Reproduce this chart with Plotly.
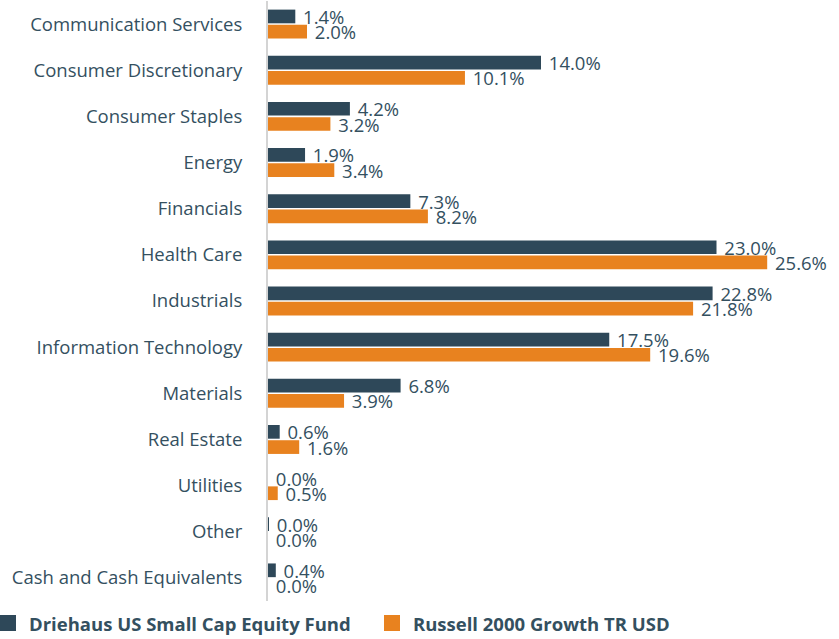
import plotly.graph_objects as go

sectors = [
    "Communication Services", "Consumer Discretionary", "Consumer Staples", "Energy",
    "Financials", "Health Care", "Industrials", "Information Technology",
    "Materials", "Real Estate", "Utilities", "Other", "Cash and Cash Equivalents",
]
fund = [1.4, 14.0, 4.2, 1.9, 7.3, 23.0, 22.8, 17.5, 6.8, 0.6, 0.0, 0.04, 0.4]
bench = [2.0, 10.1, 3.2, 3.4, 8.2, 25.6, 21.8, 19.6, 3.9, 1.6, 0.5, 0.0, 0.0]

fund_name = "Driehaus US Small Cap Equity Fund"
bench_name = "Russell 2000 Growth TR USD"

DARK = "#2e4859"
ORANGE = "#e8821f"
TEXT = "#34505f"

W, H = 839, 639
ML, MR, MT, MB = 268, 25, 1, 38
PW, PH = W - ML - MR, H - MT - MB


def px_x(px):
    return (px - ML) / PW


def px_y(py):
    return (H - MB - py) / PH


def pct(vals):
    return [f" {v:.1f}%" for v in vals]


fig = go.Figure()
series = [(fund_name, fund, DARK), (bench_name, bench, ORANGE)]
for name, vals, color in series:
    fig.add_trace(go.Bar(
        y=sectors, x=vals, name=name, orientation="h",
        marker=dict(color=color, line=dict(width=0)),
        text=pct(vals), textposition="outside", constraintext="none",
        cliponaxis=False, showlegend=False,
        textfont=dict(family="Open Sans", size=18.5, color=TEXT),
    ))

# legend drawn as square swatches with bold labels along the bottom
legend_items = [(fund_name, DARK, 0, 27), (bench_name, ORANGE, 384, 411)]
for name, color, sx, tx in legend_items:
    fig.add_shape(
        type="rect", xref="paper", yref="paper",
        x0=px_x(sx), x1=px_x(sx + 16), y0=px_y(631), y1=px_y(615),
        fillcolor=color, line=dict(width=0),
    )
    fig.add_annotation(
        text=name, xref="paper", yref="paper", x=px_x(tx), y=px_y(623),
        xanchor="left", yanchor="middle", showarrow=False,
        font=dict(family="Open Sans", size=18.5, color=TEXT, weight="bold"),
    )

fig.update_layout(
    width=W, height=H,
    margin=dict(l=ML, r=MR, t=MT, b=MB, autoexpand=False),
    paper_bgcolor="white", plot_bgcolor="white",
    barmode="group", bargap=0.34, bargroupgap=0.1,
    font=dict(family="Open Sans", color=TEXT),
    xaxis=dict(range=[0, 28], visible=False),
    yaxis=dict(
        autorange="reversed", showgrid=False, ticks="", automargin=False,
        showline=True, linecolor="#d4d4d4", linewidth=2,
        tickfont=dict(family="Open Sans", size=18.5, color=TEXT),
        ticklabelstandoff=20,
    ),
    showlegend=False,
)

fig.write_html("out.html")
